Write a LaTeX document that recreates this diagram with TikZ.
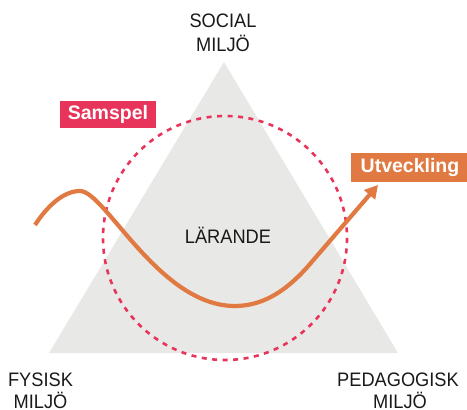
\documentclass[tikz,border=0pt]{standalone}
\usepackage{fontspec}
\setmainfont{Liberation Sans}
\newfontfamily\condfont[FakeStretch=0.935]{Liberation Sans}
\usetikzlibrary{arrows.meta}
\definecolor{tri}{HTML}{E8E8E6}
\definecolor{samred}{HTML}{E8345A}
\definecolor{utvor}{HTML}{E07A42}
\tikzset{
  lbl/.style={font=\condfont\fontsize{19.5}{24}\selectfont, inner sep=0pt, text=black!90},
  tagbox/.style={font=\bfseries\fontsize{19.5}{22}\selectfont, text=white, inner sep=0pt},
  wave/.style={draw=utvor, line width=4.2pt, -{Triangle[length=13pt,width=14pt]}},
  ring/.style={draw=samred, line width=2.6pt, dash pattern=on 5pt off 5.5pt}
}
\begin{document}
\begin{tikzpicture}[x=1pt,y=-1pt]
\useasboundingbox (0,0) rectangle (467,410);
% triangle
\fill[tri] (49,353) -- (398,353) -- (224,62) -- cycle;
% labels
\node[lbl, anchor=base] (social) at (223,27) {SOCIAL};
\node[lbl, anchor=base] (socmil) at (223,51) {MILJÖ};
\node[lbl, anchor=base] (fys) at (40.5,386) {FYSISK};
\node[lbl, anchor=base] (fysmil) at (40.5,408.5) {MILJÖ};
\node[lbl, anchor=base] (ped) at (398,386) {PEDAGOGISK};
\node[lbl, anchor=base] (pedmil) at (400,408.5) {MILJÖ};
\node[lbl, anchor=base] (lar) at (228,243) {LÄRANDE};
% dashed circle
\draw[ring] (225,238) circle (122);
% boxes
\fill[samred] (60,101) rectangle (156,128);
\node[tagbox] (samspel) at (108,114.5) {Samspel};
\fill[utvor] (351,153) rectangle (467,182);
\node[tagbox] (utv) at (410,167.5) {Utveckling};
% wave
\coordinate (ws) at (35,225);
\coordinate (wp) at (80,191);
\coordinate (wm) at (235,306);
\coordinate (wq) at (310,264);
\coordinate (wt) at (378,185);
\draw[wave] (ws) .. controls (48,205) and (64,191) .. (wp)
  .. controls (105,191) and (159,306) .. (wm)
  .. controls (266,306) and (290,287.2) .. (wq)
  -- (wt);
\end{tikzpicture}
\end{document}
